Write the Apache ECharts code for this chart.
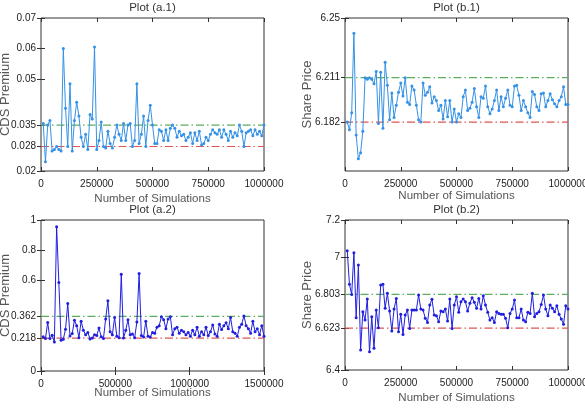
<!DOCTYPE html>
<html>
<head>
<meta charset="utf-8">
<script src="https://cdn.jsdelivr.net/npm/echarts@6/dist/echarts.min.js"></script>
<style>
  html, body { margin: 0; padding: 0; background: #fff; }
  #chart { width: 585px; height: 410px; }
</style>
</head>
<body>
<div id="chart"></div>
<script>
// simulation step per point (x = index * step)
var stepA1 = 10000, stepB1 = 10000, stepA2 = 15000, stepB2 = 10000;

var cdsA1 = [0.0355, 0.023, 0.035, 0.0365, 0.0265, 0.027, 0.028, 0.027, 0.0265, 0.060,
  0.0405, 0.028, 0.0485, 0.0265, 0.0365, 0.0425, 0.038, 0.031, 0.028, 0.032,
  0.027, 0.0385, 0.037, 0.0605, 0.027, 0.030, 0.036, 0.028, 0.0275, 0.033,
  0.029, 0.0275, 0.031, 0.035, 0.032, 0.030, 0.0355, 0.030, 0.035, 0.0355,
  0.028, 0.030, 0.0485, 0.029, 0.032, 0.038, 0.028, 0.0365, 0.0415, 0.035,
  0.029, 0.029, 0.0335, 0.033, 0.030, 0.0335, 0.030, 0.034, 0.035, 0.034,
  0.031, 0.033, 0.0315, 0.032, 0.030, 0.031, 0.0325, 0.029, 0.0325, 0.030,
  0.033, 0.0285, 0.029, 0.031, 0.030, 0.032, 0.0335, 0.0325, 0.032, 0.0335,
  0.031, 0.0335, 0.032, 0.030, 0.033, 0.031, 0.0325, 0.0315, 0.035, 0.033,
  0.028, 0.0325, 0.033, 0.0335, 0.0315, 0.0335, 0.032, 0.033, 0.0315, 0.035];

var priceB1 = [6.182, 6.177, 6.188, 6.240, 6.1735, 6.158, 6.162, 6.176, 6.211, 6.210,
  6.211, 6.210, 6.207, 6.215, 6.181, 6.2145, 6.178, 6.221, 6.206, 6.1835,
  6.201, 6.185, 6.193, 6.2015, 6.2075, 6.199, 6.211, 6.195, 6.1935, 6.2055,
  6.203, 6.193, 6.1835, 6.182, 6.2075, 6.1995, 6.2015, 6.205, 6.1945, 6.1985,
  6.196, 6.1895, 6.193, 6.184, 6.196, 6.1855, 6.196, 6.182, 6.1905, 6.182,
  6.1875, 6.185, 6.1985, 6.203, 6.1895, 6.191, 6.195, 6.204, 6.192, 6.185,
  6.1985, 6.1975, 6.2055, 6.192, 6.1875, 6.1905, 6.196, 6.203, 6.1895, 6.1985,
  6.192, 6.1975, 6.203, 6.193, 6.192, 6.2055, 6.206, 6.1995, 6.1895, 6.196,
  6.192, 6.188, 6.185, 6.202, 6.200, 6.192, 6.1895, 6.2005, 6.201, 6.192,
  6.196, 6.2005, 6.1965, 6.194, 6.192, 6.196, 6.1985, 6.205, 6.1935, 6.1935];

var cdsA2 = [0.226, 0.215, 0.321, 0.215, 0.237, 0.192, 0.956, 0.586, 0.204, 0.210,
  0.277, 0.447, 0.232, 0.248, 0.336, 0.300, 0.220, 0.330, 0.270, 0.240,
  0.255, 0.212, 0.218, 0.240, 0.235, 0.285, 0.226, 0.215, 0.345, 0.465,
  0.260, 0.240, 0.355, 0.230, 0.220, 0.640, 0.218, 0.270, 0.340, 0.240,
  0.245, 0.220, 0.325, 0.646, 0.235, 0.225, 0.330, 0.230, 0.225, 0.255,
  0.250, 0.290, 0.300, 0.360, 0.340, 0.280, 0.345, 0.360, 0.240, 0.280,
  0.290, 0.250, 0.270, 0.260, 0.240, 0.255, 0.230, 0.270, 0.240, 0.290,
  0.230, 0.260, 0.240, 0.290, 0.235, 0.260, 0.305, 0.245, 0.230, 0.310,
  0.275, 0.300, 0.320, 0.280, 0.355, 0.260, 0.250, 0.230, 0.290, 0.310,
  0.365, 0.300, 0.280, 0.250, 0.330, 0.260, 0.280, 0.240, 0.300, 0.230];

var priceB2 = [7.036, 6.857, 6.803, 7.026, 6.679, 6.960, 6.507, 6.711, 6.667, 6.779,
  6.498, 6.684, 6.516, 6.720, 6.626, 6.853, 6.857, 6.729, 6.809, 6.715,
  6.608, 6.725, 6.782, 6.604, 6.697, 6.590, 6.693, 6.720, 6.622, 6.720,
  6.720, 6.720, 6.800, 6.725, 6.720, 6.676, 6.654, 6.747, 6.777, 6.693,
  6.690, 6.658, 6.715, 6.711, 6.725, 6.661, 6.779, 6.622, 6.747, 6.791,
  6.708, 6.764, 6.779, 6.764, 6.715, 6.756, 6.786, 6.761, 6.729, 6.782,
  6.725, 6.796, 6.747, 6.708, 6.667, 6.679, 6.654, 6.711, 6.702, 6.697,
  6.697, 6.676, 6.626, 6.702, 6.725, 6.773, 6.679, 6.679, 6.725, 6.667,
  6.658, 6.708, 6.702, 6.809, 6.684, 6.702, 6.711, 6.750, 6.800, 6.725,
  6.690, 6.747, 6.729, 6.711, 6.743, 6.697, 6.672, 6.644, 6.743, 6.725];

// reference levels [upper (green), lower (red)]
var refA1 = [0.035, 0.028];
var refB1 = [6.211, 6.182];
var refA2 = [0.362, 0.218];
var refB2 = [6.803, 6.623];

// y tick labels
var yTicksA1 = [0.02, 0.028, 0.035, 0.05, 0.06, 0.07];
var yTicksB1 = [6.182, 6.211, 6.25];
var yTicksA2 = [0, 0.218, 0.362, 0.6, 0.8, 1];
var yTicksB2 = [6.4, 6.623, 6.803, 7, 7.2];

var titles = ["Plot (a.1)", "Plot (b.1)", "Plot (a.2)", "Plot (b.2)"];

var FONT = "'Liberation Sans', Arial, sans-serif";

var dom = document.getElementById("chart");
var myChart = echarts.init(dom, null, { renderer: "canvas" });

var panels = [
  { box: { left: 41, top: 18, width: 223, height: 153 }, xMax: 1000000, xInt: 250000,
    yMin: 0.02, yMax: 0.07, ticks: yTicksA1, vals: cdsA1, step: stepA1, refs: refA1,
    color: "#3592e6", yName: "CDS Premium", nameGapY: 29, nameGapX: 22 },
  { box: { left: 345, top: 18, width: 223, height: 153 }, xMax: 1000000, xInt: 250000,
    yMin: 6.15, yMax: 6.25, ticks: yTicksB1, vals: priceB1, step: stepB1, refs: refB1,
    color: "#3592e6", yName: "Share Price", nameGapY: 31, nameGapX: 19 },
  { box: { left: 41, top: 220, width: 223, height: 151 }, xMax: 1500000, xInt: 500000,
    yMin: 0, yMax: 1, ticks: yTicksA2, vals: cdsA2, step: stepA2, refs: refA2,
    color: "#1f1fe0", yName: "CDS Premium", nameGapY: 29, nameGapX: 16 },
  { box: { left: 345, top: 220, width: 223, height: 150 }, xMax: 1000000, xInt: 250000,
    yMin: 6.4, yMax: 7.2, ticks: yTicksB2, vals: priceB2, step: stepB2, refs: refB2,
    color: "#1f1fe0", yName: "Share Price", nameGapY: 31, nameGapX: 22 }
];

var grid = [], xAxis = [], yAxis = [], series = [], title = [];
var tickStyle = { show: true, inside: true, length: 4, lineStyle: { color: "#333" } };
var dashDot = [8, 3, 1.5, 3];

panels.forEach(function (p, k) {
  grid.push(Object.assign({ show: true, borderColor: "#333", borderWidth: 1, backgroundColor: "#fff",
    containLabel: false, outerBoundsMode: "none" }, p.box));
  title.push({
    text: titles[k], left: p.box.left + p.box.width / 2, top: p.box.top - 16, textAlign: "center",
    padding: 0,
    textStyle: { fontFamily: FONT, fontSize: 11.5, fontWeight: "normal", color: "#333" }
  });
  // bottom + top x axes
  xAxis.push({
    gridIndex: k, type: "value", min: 0, max: p.xMax, interval: p.xInt,
    name: "Number of Simulations", nameLocation: "middle", nameGap: p.nameGapX, nameMoveOverlap: false,
    nameTextStyle: { fontFamily: FONT, fontSize: 11.5, color: "#555" },
    axisLine: { show: false }, splitLine: { show: false }, axisTick: tickStyle,
    axisLabel: { fontFamily: FONT, fontSize: 10, color: "#222", margin: 8, formatter: function (v) { return String(v); } }
  });
  xAxis.push({
    gridIndex: k, type: "value", position: "top", min: 0, max: p.xMax, interval: p.xInt,
    axisLine: { show: false }, splitLine: { show: false }, axisTick: tickStyle, axisLabel: { show: false }
  });
  // left + right y axes
  yAxis.push({
    gridIndex: k, type: "value", min: p.yMin, max: p.yMax,
    name: p.yName, nameLocation: "middle", nameGap: p.nameGapY, nameMoveOverlap: false,
    nameTextStyle: { fontFamily: FONT, fontSize: 13, color: "#555" },
    axisLine: { show: false }, splitLine: { show: false },
    axisTick: Object.assign({ customValues: p.ticks }, tickStyle),
    axisLabel: { customValues: p.ticks, fontFamily: FONT, fontSize: 10, color: "#222", margin: 5,
      formatter: function (v) { return String(v); } }
  });
  yAxis.push({
    gridIndex: k, type: "value", position: "right", min: p.yMin, max: p.yMax,
    axisLine: { show: false }, splitLine: { show: false },
    axisTick: Object.assign({ customValues: p.ticks }, tickStyle), axisLabel: { show: false }
  });
  // reference levels, drawn first so the data line sits on top
  series.push({
    type: "line", xAxisIndex: 2 * k, yAxisIndex: 2 * k, silent: true, symbol: "none",
    data: [[0, p.refs[0]], [p.xMax, p.refs[0]]],
    lineStyle: { color: "#5cae5c", width: 1.2, type: dashDot }
  });
  series.push({
    type: "line", xAxisIndex: 2 * k, yAxisIndex: 2 * k, silent: true, symbol: "none",
    data: [[0, p.refs[1]], [p.xMax, p.refs[1]]],
    lineStyle: { color: "#e05555", width: 1.2, type: dashDot }
  });
  series.push({
    type: "line", xAxisIndex: 2 * k, yAxisIndex: 2 * k,
    data: p.vals.map(function (v, i) { return [(i + 1) * p.step, v]; }),
    symbol: "circle", symbolSize: 3, showSymbol: true,
    itemStyle: { color: p.color }, lineStyle: { color: p.color, width: 1 }
  });
});

var option = {
  backgroundColor: "#fff",
  animation: false,
  title: title,
  grid: grid,
  xAxis: xAxis,
  yAxis: yAxis,
  series: series
};

myChart.setOption(option);
window.addEventListener("resize", myChart.resize);
</script>
</body>
</html>
